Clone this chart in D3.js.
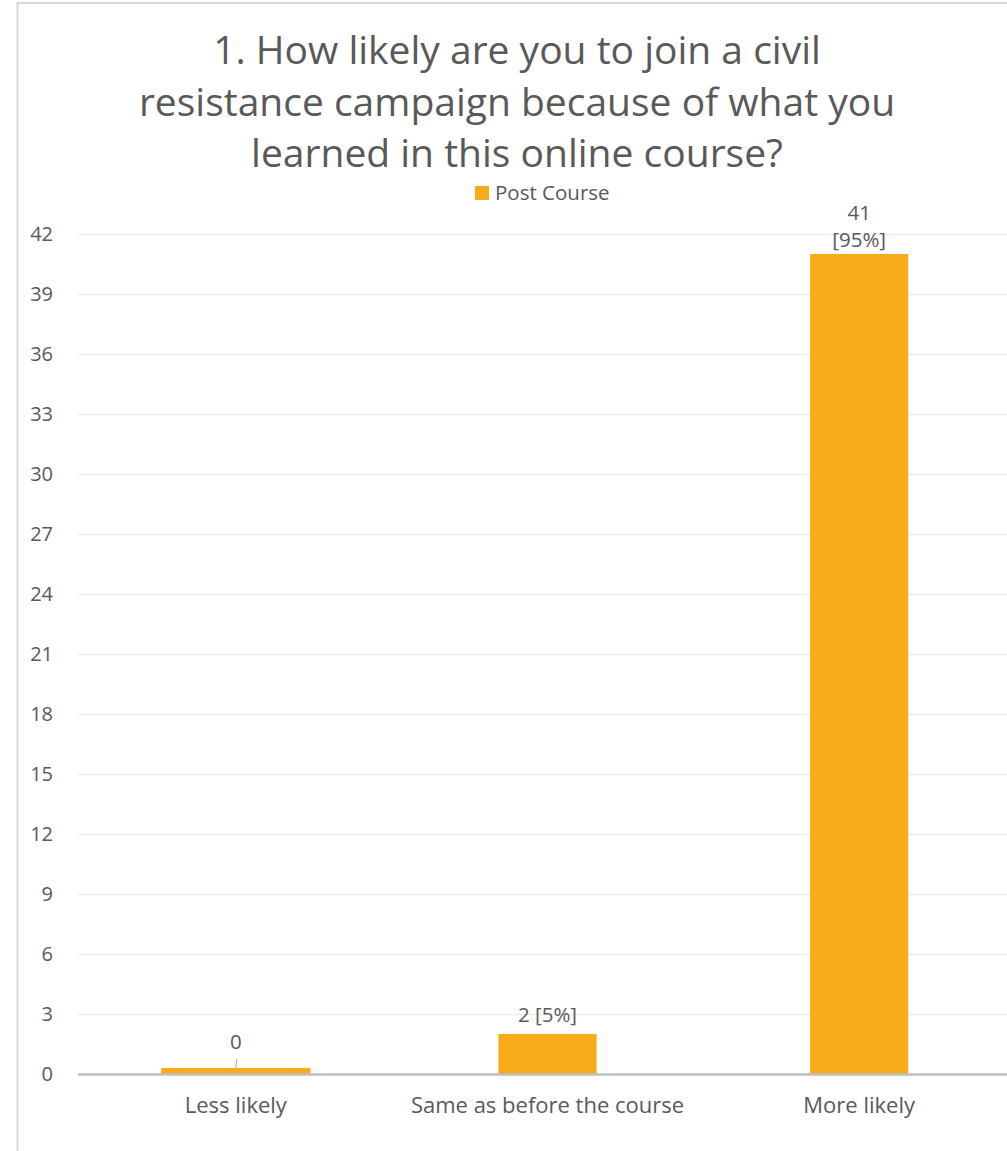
<!DOCTYPE html>
<html><head><meta charset="utf-8">
<script src="https://cdn.jsdelivr.net/npm/d3@7"></script>
<style>
html,body{margin:0;padding:0;background:#fff;overflow:hidden}
text{font-family:"Open Sans", Lato, sans-serif;fill:#595959}
</style></head>
<body>
<script>
const titleLines = ["1. How likely are you to join a civil", "resistance campaign because of what you", "learned in this online course?"];
const seriesName = "Post Course";
const categories = ["Less likely", "Same as before the course", "More likely"];
const values = [0, 2, 41];
const labels = [["0"], ["2 [5%]"], ["41", "[95%]"]];
const yTicks = [0,3,6,9,12,15,18,21,24,27,30,33,36,39,42];

const W = 1007, H = 1151;
const svg = d3.select("body").append("svg").attr("width", W).attr("height", H);

// outer border
svg.append("rect").attr("x", 17.5).attr("y", 3).attr("width", 1200).attr("height", 1300)
  .attr("fill", "none").attr("stroke", "#d9d9d9").attr("stroke-width", 2);

const x = d3.scaleBand().domain(categories).range([80, 1015]).paddingInner(0.685).paddingOuter(0.3425);
const y = d3.scaleLinear().domain([0, 42]).range([1074, 234]);

// title
svg.append("g").selectAll("text").data(titleLines).join("text")
  .attr("x", 517).attr("y", (d,i) => 64 + i*51.5)
  .attr("text-anchor", "middle").style("font-size", "39px").style("font-weight", 400)
  .text(d => d);

// legend
const lg = svg.append("g");
lg.append("rect").attr("x", 475).attr("y", 186).attr("width", 14).attr("height", 14).attr("fill", "#f9ab1a");
lg.append("text").attr("x", 495).attr("y", 200).style("font-size", "20.5px").text(seriesName);

// gridlines via axis
const yAxis = d3.axisLeft(y).tickValues(yTicks).tickSize(-(1015 - 78)).tickPadding(25);
const gy = svg.append("g").attr("transform", "translate(78,0)").call(yAxis);
gy.select(".domain").remove();
gy.selectAll(".tick line").attr("stroke", "#ececec").attr("stroke-width", 1.5);
gy.selectAll(".tick text").style("font-size", "20px").style("fill", "#595959");

// bars
const data = categories.map((c,i) => ({c, v: values[i], lab: labels[i]}));
svg.append("g").selectAll("rect").data(data).join("rect")
  .attr("x", d => d.v === 0 ? x(d.c) + x.bandwidth()/2 - x.bandwidth()*0.76 : x(d.c))
  .attr("width", d => d.v === 0 ? x.bandwidth()*1.52 : x.bandwidth())
  .attr("y", d => d.v === 0 ? y(0.3) : y(d.v))
  .attr("height", d => d.v === 0 ? y(0) - y(0.3) : y(0) - y(d.v))
  .attr("fill", "#f9ab1a");

// x axis line
svg.append("line").attr("x1", 78).attr("x2", 1015).attr("y1", y(0)+0.5).attr("y2", y(0)+0.5)
  .attr("stroke", "#bfbfbf").attr("stroke-width", 2.5);

// category labels
const xAxis = d3.axisBottom(x).tickSize(0).tickPadding(0);
const gx = svg.append("g").attr("transform", "translate(0,1113)").call(xAxis);
gx.select(".domain").remove();
gx.selectAll(".tick text").attr("dy", 0).style("font-size", "22px").style("fill", "#595959");

// data labels
const lblG = svg.append("g");
data.forEach(d => {
  const cx = x(d.c) + x.bandwidth()/2;
  const top = d.v === 0 ? y(0.3) : y(d.v);
  if (d.v === 0) {
    lblG.append("line").attr("x1", cx + 1).attr("y1", top - 9).attr("x2", cx).attr("y2", top)
      .attr("stroke", "#a6a6a6").attr("stroke-width", 1);
    lblG.append("text").attr("x", cx).attr("y", top - 19).attr("text-anchor", "middle")
      .style("font-size", "20.5px").text(d.lab[0]);
  } else {
    const n = d.lab.length;
    const off = n > 1 ? 7 : 12;
    d.lab.forEach((t, k) => {
      lblG.append("text").attr("x", cx).attr("y", top - off - (n-1-k)*27)
        .attr("text-anchor", "middle").style("font-size", "20.5px").text(t);
    });
  }
});
</script>
</body></html>
